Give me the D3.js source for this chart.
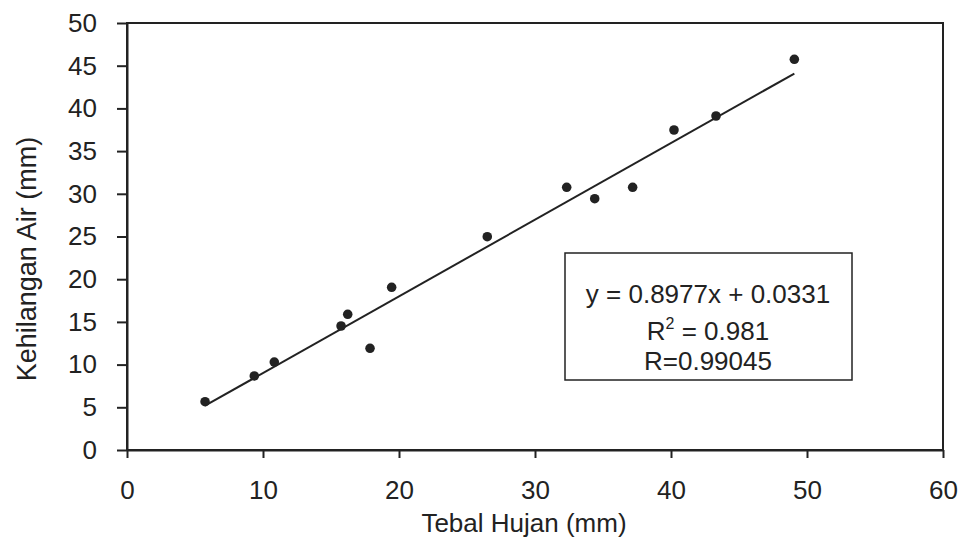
<!DOCTYPE html>
<html>
<head>
<meta charset="utf-8">
<script src="https://cdn.jsdelivr.net/npm/d3@7"></script>
<style>
    body { margin: 0; background: #fff; }
    svg text { font-family: "Liberation Sans", Arial, sans-serif; fill: #222; }
</style>
</head>
<body>
<script>
// Tebal hujan (x) vs kehilangan air (y)
var tebalHujan = [5.74, 9.36, 10.83, 15.74, 16.23, 17.87, 19.46, 26.49, 32.33, 34.39, 37.18, 40.22, 43.31, 49.07];
var kehilanganAir = [5.66, 8.67, 10.30, 14.52, 15.89, 11.91, 19.05, 24.98, 30.76, 29.43, 30.76, 37.47, 39.11, 45.75];

var xTicks = [0, 10, 20, 30, 40, 50, 60];
var yTicks = [0, 5, 10, 15, 20, 25, 30, 35, 40, 45, 50];

// regression as printed on the chart
var slope = 0.8977, intercept = 0.0331;
var legendLines = ["y = 0.8977x + 0.0331", "R2 = 0.981", "R=0.99045"];

var width = 961, height = 547;
var margin = { top: 23, right: 18, bottom: 97, left: 127 };

var svg = d3.select("body").append("svg")
    .attr("width", width)
    .attr("height", height);

var x = d3.scaleLinear().domain([0, 60]).range([margin.left, width - margin.right]);
var y = d3.scaleLinear().domain([0, 50]).range([height - margin.bottom, margin.top]);

// plot frame
svg.append("rect")
    .attr("x", x(0))
    .attr("y", y(50))
    .attr("width", x(60) - x(0))
    .attr("height", y(0) - y(50))
    .attr("fill", "none")
    .attr("stroke", "#222")
    .attr("stroke-width", 2);

var xAxis = d3.axisBottom(x).tickValues(xTicks).tickSize(8).tickSizeOuter(0).tickPadding(23);
var yAxis = d3.axisLeft(y).tickValues(yTicks).tickSize(10).tickSizeOuter(0).tickPadding(20);

var gx = svg.append("g")
    .attr("transform", "translate(0," + y(0) + ")")
    .call(xAxis);
var gy = svg.append("g")
    .attr("transform", "translate(" + x(0) + ",0)")
    .call(yAxis);

[gx, gy].forEach(function (g) {
    g.select(".domain").attr("stroke", "#222").attr("stroke-width", 2);
    g.selectAll(".tick line").attr("stroke", "#222").attr("stroke-width", 2);
    g.selectAll(".tick text")
        .style("font-size", "26px")
        .style("font-family", "'Liberation Sans', Arial, sans-serif")
        .attr("fill", "#222");
});

// axis titles
svg.append("text")
    .attr("x", 524)
    .attr("y", 532)
    .attr("text-anchor", "middle")
    .style("font-size", "26px")
    .text("Tebal Hujan (mm)");

svg.append("text")
    .attr("transform", "translate(36,259) rotate(-90)")
    .attr("text-anchor", "middle")
    .style("font-size", "27px")
    .text("Kehilangan Air (mm)");

// trend line
var xMin = d3.min(tebalHujan), xMax = d3.max(tebalHujan);
var line = d3.line()
    .x(function (d) { return x(d); })
    .y(function (d) { return y(slope * d + intercept); });

svg.append("path")
    .datum([xMin, xMax])
    .attr("fill", "none")
    .attr("stroke", "#222")
    .attr("stroke-width", 2)
    .attr("d", line);

// points
svg.selectAll(".pt")
    .data(tebalHujan)
    .enter().append("path")
    .attr("class", "pt")
    .attr("transform", function (d, i) {
        return "translate(" + x(d) + "," + y(kehilanganAir[i]) + ")";
    })
    .attr("d", d3.symbol().type(d3.symbolCircle).size(72))
    .attr("fill", "#222");

// legend box
var lg = svg.append("g");
lg.append("rect")
    .attr("x", 565)
    .attr("y", 253)
    .attr("width", 287)
    .attr("height", 127)
    .attr("fill", "#fff")
    .attr("stroke", "#222")
    .attr("stroke-width", 1.5);

var baselines = [303, 340, 370];
lg.selectAll(".lt")
    .data(legendLines)
    .enter().append("text")
    .attr("class", "lt")
    .attr("x", 708)
    .attr("y", function (d, i) { return baselines[i]; })
    .attr("text-anchor", "middle")
    .style("font-size", "26px")
    .each(function (d) {
        var t = d3.select(this);
        if (d.indexOf("R2") === 0) {
            t.append("tspan").text("R");
            t.append("tspan").attr("dy", -11).style("font-size", "16px").text("2");
            t.append("tspan").attr("dy", 11).text(d.slice(2));
        } else {
            t.text(d);
        }
    });
</script>
</body>
</html>
